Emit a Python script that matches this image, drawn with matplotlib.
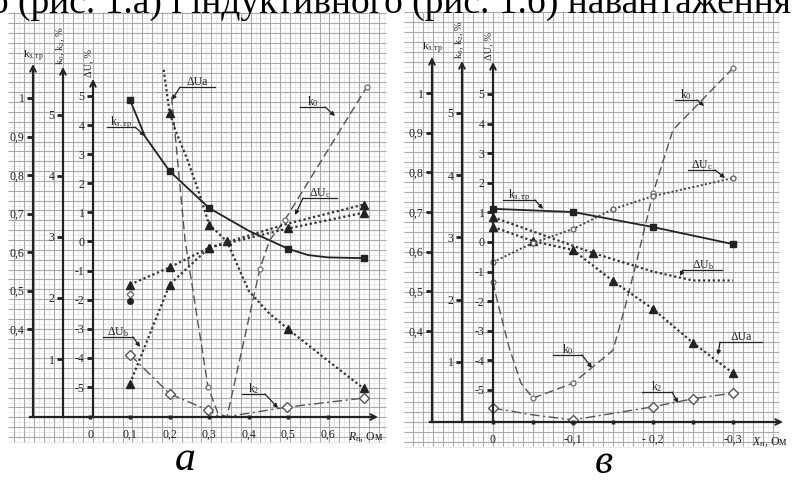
import numpy as np
import matplotlib.pyplot as plt

plt.rcParams['font.family'] = ['Liberation Serif', 'DejaVu Serif']
plt.rcParams['mathtext.fontset'] = 'custom'
plt.rcParams['mathtext.rm'] = 'Liberation Serif'
plt.rcParams['mathtext.it'] = 'Liberation Serif:italic'

W, H = 793, 482
INK = '#222222'

# ---------- panel а : R_н, Ом ----------
a_kstr_x = [0.1, 0.138, 0.2, 0.3, 0.4, 0.5, 0.55, 0.6, 0.69]
a_kstr = [0.995, 0.90, 0.81, 0.714, 0.655, 0.608, 0.592, 0.586, 0.584]
a_kstr_marks = [0, 2, 3, 5, 8]

a_dua_x = [0.185, 0.2, 0.215, 0.244, 0.27, 0.3, 0.345, 0.4, 0.45, 0.5, 0.6, 0.69]
a_dua = [5.9, 4.43, 3.8, 2.85, 1.85, 0.58, 0.0, -1.7, -2.45, -3.02, -4.1, -5.05]
a_dua_marks = [1, 5, 6, 9, 11]

a_duc_x = [0.1, 0.2, 0.3, 0.5, 0.69]
a_duc = [-1.48, -0.89, -0.21, 0.62, 1.27]
a_duc_marks = [0, 1, 2, 4]

a_dub_x = [0.1, 0.2, 0.3, 0.5, 0.69]
a_dub = [-4.88, -1.48, -0.21, 0.45, 0.99]
a_dub_marks = [0, 1, 2, 3, 4]

a_k0_x = [0.205, 0.239, 0.297, 0.322, 0.345, 0.428, 0.453, 0.491, 0.698]
a_k0 = [5.3, 2.95, 0.54, 0.11, 0.05, 2.48, 2.95, 3.28, 5.46]
a_k0_marks = [2, 5, 7, 8]

a_k2_x = [0.1, 0.2, 0.297, 0.33, 0.496, 0.69]
a_k2 = [1.07, 0.43, 0.16, 0.04, 0.21, 0.36]
a_k2_marks = [0, 1, 2, 4, 5]

a_extra_x = [0.1, 0.1]
a_extra = [-1.8, -2.06]

a_xticks = [0, 0.1, 0.2, 0.3, 0.4, 0.5, 0.6]
a_xlabels = ['0', '0,1', '0,2', '0,3', '0,4', '0,5', '0,6']

# ---------- panel в : X_н, Ом ----------
b_kstr_x = [0.0, -0.1, -0.2, -0.3]
b_kstr = [0.708, 0.70, 0.662, 0.619]

b_dua_x = [0.0, -0.05, -0.1, -0.15, -0.2, -0.25, -0.3]
b_dua = [0.51, 0.03, -0.27, -1.32, -2.26, -3.41, -4.43]

b_dub_x = [0.0, -0.125, -0.2, -0.25, -0.3]
b_dub = [0.84, -0.37, -1.0, -1.3, -1.3]
b_dub_marks = [0, 1]

b_duc_x = [0.0, -0.05, -0.1, -0.15, -0.2, -0.3]
b_duc = [-0.68, -0.03, 0.44, 1.11, 1.55, 2.16]

b_k0_x = [0.0, -0.005, -0.02, -0.035, -0.05, -0.1, -0.15, -0.165, -0.18, -0.2, -0.225, -0.3]
b_k0 = [2.29, 2.0, 1.24, 0.66, 0.42, 0.66, 1.19, 1.88, 2.64, 3.71, 4.73, 5.72]
b_k0_marks = [0, 4, 5, 9, 11]

b_k2_x = [0.0, -0.05, -0.1, -0.2, -0.25, -0.3]
b_k2 = [0.26, 0.15, 0.07, 0.28, 0.41, 0.5]
b_k2_marks = [0, 2, 3, 4, 5]

b_xticks = [0, -0.05, -0.1, -0.15, -0.2, -0.25, -0.3]
b_xlabels = ['0', '', '-0,1', '', '- 0,2', '', '-0,3']

du_ticks = [-5, -4, -3, -2, -1, 0, 1, 2, 3, 4, 5]
k_ticks = [1, 2, 3, 4, 5]
kstr_ticks = [0.4, 0.5, 0.6, 0.7, 0.8, 0.9, 1.0]
kstr_labels = ['0,4', '0,5', '0,6', '0,7', '0,8', '0,9', '1']


def scale(v1, p1, v2, p2):
    # pixel of the scan -> value on that axis
    return lambda p: v1 + (p - p1) * (v2 - v1) / (p2 - p1)


fig = plt.figure(figsize=(W / 100, H / 100), dpi=100)
ov = fig.add_axes([0, 0, 1, 1])
ov.set_xlim(0, W)
ov.set_ylim(H, 0)
ov.axis('off')


def paper(x0, x1, y0, y1, gx, gy, step):
    vx = np.arange(gx - step * 40, x1, step)
    vx = vx[vx >= x0]
    vy = np.arange(gy - step * 60, y1, step)
    vy = vy[vy >= y0]
    ov.vlines(vx + step / 2, y0, y1, color='#e2e2e2', lw=0.5)
    ov.hlines(vy + step / 2, x0, x1, color='#e2e2e2', lw=0.5)
    ov.vlines(vx, y0, y1, color='#a9a9a9', lw=0.8)
    ov.hlines(vy, x0, x1, color='#a9a9a9', lw=0.8)


paper(8, 386, 12, 442, 93, 240, 9.85)
paper(404, 779, 12, 446, 493, 242, 10.0)


def panel(left, right, xs, sdu, sk, ss, spines, xaxis, xspan, tops):
    rect = [left / W, 0, (right - left) / W, 1]
    axes = []
    for sc, sx, top in zip((ss, sk, sdu), spines, tops):
        ax = fig.add_axes(rect)
        ax.set_xlim(xs(left), xs(right))
        ax.set_ylim(sc(H), sc(0))
        ax.patch.set_alpha(0)
        for s in ('top', 'right'):
            ax.spines[s].set_visible(False)
        ax.spines['left'].set_position(('data', xs(sx)))
        ax.spines['left'].set_bounds(sc(xaxis), sc(top + 4))
        ax.spines['left'].set_linewidth(1.6)
        ax.spines['left'].set_color(INK)
        ax.tick_params(axis='y', direction='out', length=4, width=2, colors=INK,
                       labelsize=8.5, pad=2)
        ax.spines['bottom'].set_visible(False)
        ax.tick_params(axis='x', bottom=False, labelbottom=False)
        ov.annotate('', xy=(sx, top), xytext=(sx, top + 14),
                    arrowprops=dict(arrowstyle='->', lw=1.4, color=INK,
                                    shrinkA=0, shrinkB=0, mutation_scale=10))
        axes.append(ax)
    axs, axk, axu = axes
    axu.spines['bottom'].set_visible(True)
    axu.spines['bottom'].set_position(('data', sdu(xaxis)))
    axu.spines['bottom'].set_bounds(xs(xspan[0]), xs(xspan[1] - 4))
    axu.spines['bottom'].set_linewidth(1.6)
    axu.spines['bottom'].set_color(INK)
    axu.tick_params(axis='x', bottom=True, labelbottom=True, direction='inout',
                    length=3, width=2.5, colors=INK, labelsize=8.5, pad=7)
    ov.annotate('', xy=(xspan[1], xaxis), xytext=(xspan[1] - 14, xaxis),
                arrowprops=dict(arrowstyle='->', lw=1.4, color=INK,
                                shrinkA=0, shrinkB=0, mutation_scale=10))
    axu.set_yticks(du_ticks)
    axu.set_yticklabels([str(v) for v in du_ticks])
    axk.set_yticks(k_ticks)
    axk.set_yticklabels([str(v) for v in k_ticks])
    axs.set_yticks(kstr_ticks)
    axs.set_yticklabels(kstr_labels)
    return axs, axk, axu


solid = dict(color=INK, lw=1.3, marker='s', ms=5, mfc=INK, mec=INK)
dotted = dict(color='#333333', lw=1.6, ls=(0, (1, 1.2)), marker='^', ms=5.5,
              mfc=INK, mec=INK)
dotted_o = dict(color='#444444', lw=1.4, ls=(0, (1, 1.2)), marker='o', ms=3.5,
                mfc='white', mec='#666666')
dashed = dict(color='#555555', lw=1.0, ls=(0, (6, 3)), marker='o', ms=3.5,
              mfc='white', mec='#777777')
dashdot = dict(color='#555555', lw=1.0, ls=(0, (7, 2.5, 1.5, 2.5)), marker='D',
               ms=5, mfc='white', mec='#555555')

# ---------- panel а ----------
sa, ka, ua = panel(0, 396, scale(0.1, 130, 0.6, 328), scale(5, 96, -5, 387),
                   scale(5, 115, 1, 359), scale(1, 98, 0.4, 329),
                   (33, 63, 93), 417, (30, 378), (64, 67, 79))
ua.set_xticks(a_xticks)
ua.set_xticklabels(a_xlabels)
sa.plot(a_kstr_x, a_kstr, markevery=a_kstr_marks, **solid)
ua.plot(a_dua_x, a_dua, markevery=a_dua_marks, **dotted)
ua.plot(a_duc_x, a_duc, markevery=a_duc_marks, **dotted)
ua.plot(a_dub_x, a_dub, markevery=a_dub_marks, **dotted)
ka.plot(a_k0_x, a_k0, markevery=a_k0_marks, **dashed)
ka.plot(a_k2_x, a_k2, markevery=a_k2_marks, **dashdot)
ua.plot(a_extra_x[:1], a_extra[:1], ls='none', marker='D', ms=3.5, mfc='white', mec='#777777')
ua.plot(a_extra_x[1:], a_extra[1:], ls='none', marker='o', ms=4, color=INK)

# ---------- panel в ----------
sb, kb, ub = panel(396, 793, scale(0, 493, -0.3, 733), scale(5, 94, -5, 390),
                   scale(5, 113, 1, 362), scale(1, 93, 0.4, 331),
                   (432, 462, 493), 422, (430, 783), (57, 61, 62))
ub.set_xticks(b_xticks)
ub.set_xticklabels(b_xlabels)
sb.plot(b_kstr_x, b_kstr, **solid)
ub.plot(b_dua_x, b_dua, **dotted)
ub.plot(b_dub_x, b_dub, markevery=b_dub_marks, **dotted)
ub.plot(b_duc_x, b_duc, **dotted_o)
kb.plot(b_k0_x, b_k0, markevery=b_k0_marks, **dashed)
kb.plot(b_k2_x, b_k2, markevery=b_k2_marks, **dashdot)


# ---------- text on the scan ----------
def callout(label, u0, u1, uy, end, px, py):
    ov.text((u0 + u1) / 2, uy - 2, label, ha='center', va='baseline',
            fontsize=8.5, color=INK)
    ov.plot([u0, u1], [uy, uy], color=INK, lw=0.9)
    ov.annotate('', xy=(px, py), xytext=(end, uy),
                arrowprops=dict(arrowstyle='-|>', lw=0.9, color=INK,
                                mutation_scale=6, shrinkA=0, shrinkB=0))


KSTR = r'k$_{\mathrm{з.тр}}$'
callout('ΔUa', 180, 215, 87, 180, 172, 100)
callout('k$_0$', 300, 325, 107, 325, 335, 116)
callout(KSTR, 107, 135, 127, 135, 145, 136)
callout(r'ΔU$_{\mathrm{c}}$', 303, 337, 198, 303, 295, 215)
callout(r'ΔU$_{\mathrm{b}}$', 103, 133, 337, 133, 140, 347)
callout('k$_2$', 242, 265, 394, 265, 278, 408)

callout(KSTR, 503, 535, 200, 535, 543, 209)
callout('k$_0$', 675, 697, 100, 697, 704, 106)
callout(r'ΔU$_{\mathrm{c}}$', 688, 715, 170, 715, 725, 178)
callout(r'ΔU$_{\mathrm{b}}$', 683, 722, 270, 683, 680, 276)
callout('ΔUa', 720, 762, 342, 720, 718, 355)
callout('k$_0$', 553, 582, 355, 582, 592, 368)
callout('k$_2$', 642, 672, 392, 672, 678, 403)

for sx, top in ((33, 64), (432, 57)):
    ov.text(sx, top - 6, KSTR, ha='center', va='baseline', fontsize=8, color=INK)
for sx, top in ((63, 67), (462, 61)):
    ov.text(sx - 2, top - 2, 'k$_0$, k$_2$, %', rotation=90, ha='center', va='bottom',
            fontsize=7.5, color=INK)
for sx, top in ((93, 79), (493, 62)):
    ov.text(sx - 4, top - 2, 'ΔU, %', rotation=90, ha='center', va='bottom',
            fontsize=7.5, color=INK)

ov.text(366, 437, r'$R_{\mathrm{н}}$, Ом', ha='center', va='center', fontsize=8.5, color=INK)
ov.text(770, 442, r'$X_{\mathrm{н}}$, Ом', ha='center', va='center', fontsize=8.5, color=INK)

ov.text(185, 470, 'а', ha='center', va='baseline', fontsize=30, style='italic', color='black')
ov.text(604, 473, 'в', ha='center', va='baseline', fontsize=30, style='italic', color='black')

ov.text(-10, 13, 'о (рис. 1.а) і індуктивного (рис. 1.б) навантаження',
        ha='left', va='baseline', fontsize=27, color='black')

fig.savefig('out.png', dpi=100)
